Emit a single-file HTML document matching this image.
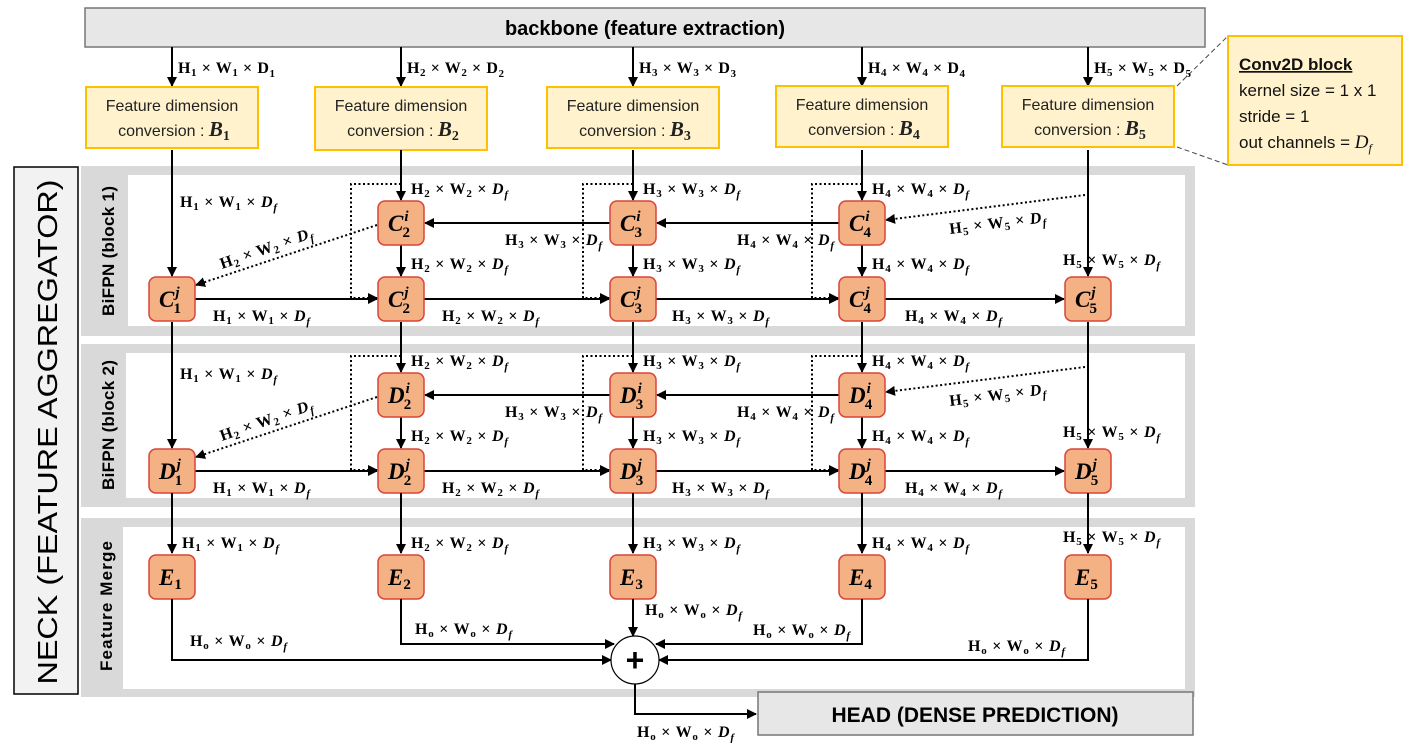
<!DOCTYPE html>
<html><head><meta charset="utf-8"><style>
html,body{margin:0;padding:0;background:#fff;}
svg{display:block;}
.lb{font-family:"Liberation Serif",serif;font-weight:bold;font-size:16px;fill:#000;}
.bt{font-family:"Liberation Sans",sans-serif;font-size:16px;fill:#222;}
</style></head><body>
<svg id="d" width="1413" height="743" viewBox="0 0 1413 743" xmlns="http://www.w3.org/2000/svg">
<defs>
<marker id="ah" markerWidth="10" markerHeight="10" refX="9" refY="5" orient="auto" markerUnits="userSpaceOnUse"><path d="M0,0 L10,5 L0,10 z" fill="#000"/></marker>
</defs>
<rect x="85" y="8" width="1120" height="39" fill="#e7e7e7" stroke="#777" stroke-width="1.5"/>
<text x="645" y="35" text-anchor="middle" font-family="Liberation Sans,sans-serif" font-weight="bold" font-size="20">backbone (feature extraction)</text>
<rect x="14" y="167" width="64" height="527" fill="#f2f2f2" stroke="#000" stroke-width="1.5"/>
<text transform="translate(57,432) rotate(-90)" text-anchor="middle" font-family="Liberation Sans,sans-serif" font-size="28" textLength="505" lengthAdjust="spacingAndGlyphs">NECK (FEATURE AGGREGATOR)</text>
<rect x="81" y="166" width="1114" height="170" fill="#d9d9d9"/>
<rect x="128" y="175" width="1057" height="151" fill="#fff"/>
<text transform="translate(114,251) rotate(-90)" text-anchor="middle" font-family="Liberation Sans,sans-serif" font-weight="bold" font-size="17" textLength="130">BiFPN (block 1)</text>
<rect x="81" y="344" width="1114" height="163" fill="#d9d9d9"/>
<rect x="126" y="353" width="1059" height="145" fill="#fff"/>
<text transform="translate(114,425) rotate(-90)" text-anchor="middle" font-family="Liberation Sans,sans-serif" font-weight="bold" font-size="17" textLength="130">BiFPN (block 2)</text>
<rect x="81" y="518" width="1114" height="179" fill="#d9d9d9"/>
<rect x="123" y="527" width="1062" height="162" fill="#fff"/>
<text transform="translate(112,606) rotate(-90)" text-anchor="middle" font-family="Liberation Sans,sans-serif" font-weight="bold" font-size="17" textLength="130">Feature Merge</text>
<rect x="1228" y="36" width="174" height="129" fill="#fff2cc" stroke="#ffc000" stroke-width="2"/>
<line x1="1177" y1="86" x2="1228" y2="36" stroke="#444" stroke-dasharray="5,3"/>
<line x1="1177" y1="147" x2="1228" y2="165" stroke="#444" stroke-dasharray="5,3"/>
<text font-family="Liberation Sans,sans-serif" font-size="17" fill="#111">
<tspan x="1239" y="70" font-weight="bold" text-decoration="underline">Conv2D block</tspan>
<tspan x="1239" y="96">kernel size = 1 x 1</tspan>
<tspan x="1239" y="122">stride = 1</tspan>
<tspan x="1239" y="148">out channels = <tspan font-family="Liberation Serif,serif" font-style="italic" font-size="19">D<tspan font-size="12" dy="4">f</tspan></tspan></tspan>
</text>
<g id="g"></g>
</svg>
<script>
const cols=[172,401,633,862,1088];
const svgNS="http://www.w3.org/2000/svg";
const g=document.getElementById('g');
function line(pts,name,dotted,arrow){
 const p=document.createElementNS(svgNS,'polyline');
 p.setAttribute('points',pts.map(a=>a.join(',')).join(' '));
 p.setAttribute('fill','none');p.setAttribute('stroke','#000');
 p.setAttribute('stroke-width','2');
 if(dotted)p.setAttribute('stroke-dasharray','2,2.5');
 if(arrow!==false)p.setAttribute('marker-end','url(#ah)');
 
 
 g.appendChild(p);
}
function lab(x,y,a,b,c,name,rot){
 const t=document.createElementNS(svgNS,'text');
 t.setAttribute('x',x);t.setAttribute('y',y);t.setAttribute('class','lb');
 t.setAttribute('textLength','97');t.setAttribute('lengthAdjust','spacing');
 if(rot)t.setAttribute('transform','rotate('+rot+' '+x+' '+y+')');
 const italicD=(c==='f');
 t.innerHTML='H<tspan font-size="11" dy="3">'+a+'</tspan><tspan dy="-3"> × W</tspan><tspan font-size="11" dy="3">'+b+'</tspan><tspan dy="-3"> × </tspan><tspan font-style="'+(italicD?'italic':'normal')+'">D</tspan><tspan font-size="11" dy="4" font-style="'+(italicD?'italic':'normal')+'">'+c+'</tspan>';
 
 
 g.appendChild(t);
}
function node(cx,cy,L,sub,sup,name){
 const r=document.createElementNS(svgNS,'rect');
 r.setAttribute('x',cx-23);r.setAttribute('y',cy-22);r.setAttribute('width',46);r.setAttribute('height',44);
 r.setAttribute('rx',7);r.setAttribute('fill','#f4b183');r.setAttribute('stroke','#d9453b');r.setAttribute('stroke-width','1.5');
 
 
 g.appendChild(r);
 const t=document.createElementNS(svgNS,'text');
 t.setAttribute('x',cx-13);t.setAttribute('y',cy+8);
 t.setAttribute('font-family','Liberation Serif,serif');t.setAttribute('font-weight','bold');t.setAttribute('font-style','italic');t.setAttribute('font-size','23');
 if(sup) t.innerHTML=L+'<tspan font-size="15" dx="1" dy="-10">'+sup+'</tspan><tspan font-size="15" font-style="normal" dx="-6" dy="16">'+sub+'</tspan>';
 else t.innerHTML=L+'<tspan font-size="15" font-style="normal" dy="4">'+sub+'</tspan>';
 
 
 g.appendChild(t);
}
const by=[[87,148],[87,150],[87,148],[86,147],[86,147]];
cols.forEach((x,i)=>{
 const k=i+1;
 line([[x,47],[x,86]],'backbone-arrow-'+k);
 lab(x+6,73,k,k,k,'backbone-output-label-'+k);
 const r=document.createElementNS(svgNS,'rect');
 r.setAttribute('x',x-86);r.setAttribute('y',by[i][0]);r.setAttribute('width',172);r.setAttribute('height',by[i][1]-by[i][0]);
 r.setAttribute('fill','#fff2cc');r.setAttribute('stroke','#ffc000');r.setAttribute('stroke-width','2');
 
 
 g.appendChild(r);
 const t=document.createElementNS(svgNS,'text');
 t.setAttribute('class','bt');t.setAttribute('text-anchor','middle');
 t.innerHTML='<tspan x="'+x+'" y="'+(by[i][0]+24)+'">Feature dimension</tspan><tspan x="'+(x+2)+'" y="'+(by[i][0]+49)+'">conversion : <tspan font-family="Liberation Serif,serif" font-weight="bold" font-style="italic" font-size="21">B<tspan font-size="14" font-style="normal" dy="4">'+k+'</tspan></tspan></tspan>';
 
 
 g.appendChild(t);
});
const blocks=[{L:'C',iy:223,jy:299,top:150},{L:'D',iy:395,jy:471,top:322}];
blocks.forEach((b,bi)=>{
 const L=b.L, n=L.toLowerCase(), off=bi*172;
 line([[cols[0],b.top],[cols[0],b.jy-23]],n+'-input-arrow-1');
 lab(180,207+off,1,1,'f',n+'-input-label-1');
 for(let k=1;k<4;k++){
  const x=cols[k];
  line([[x,b.top],[x,b.iy-23]],n+'-input-arrow-'+(k+1));
  lab(x+10,194+off,k+1,k+1,'f',n+'-input-label-'+(k+1));
  line([[x,b.iy+22],[x,b.jy-23]],n+'-i-to-j-arrow-'+(k+1));
  lab(x+10,269+off,k+1,k+1,'f',n+'-i-to-j-label-'+(k+1));
  line([[x,184+off],[x-50,184+off],[x-50,b.jy-1],[x-24,b.jy-1]],n+'-skip-connection-'+(k+1),true);
 }
 line([[cols[4],b.top],[cols[4],b.jy-23]],n+'-input-arrow-5');
 lab(1063,265+off,5,5,'f',n+'-input-label-5');
 line([[1085,195+off],[886,220+off]],n+'-dotted-5-to-4i',true);
 lab(950,234+off,5,5,'f',n+'-dotted-label-5',-7);
 line([[cols[3]-23,b.iy],[cols[2]+24,b.iy]],n+'-topdown-4-to-3');
 lab(737,245+off,4,4,'f',n+'-topdown-label-4');
 line([[cols[2]-23,b.iy],[cols[1]+24,b.iy]],n+'-topdown-3-to-2');
 lab(505,245+off,3,3,'f',n+'-topdown-label-3');
 line([[cols[1]-24,b.iy+2],[cols[0]+24,b.jy-14]],n+'-dotted-2i-to-1j',true);
 lab(222,269+off,2,2,'f',n+'-dotted-label-2',-19);
 const lx=[213,442,672,905];
 for(let k=0;k<4;k++){
  line([[cols[k]+23,b.jy],[cols[k+1]-24,b.jy]],n+'-bottomup-'+(k+1)+'-to-'+(k+2));
  lab(lx[k],321+off,k+1,k+1,'f',n+'-bottomup-label-'+(k+1));
 }
 for(let k=1;k<4;k++) node(cols[k],b.iy,L,k+1,'i',n+'-node-i-'+(k+1));
 for(let k=0;k<5;k++) node(cols[k],b.jy,L,k+1,'j',n+'-node-j-'+(k+1));
});
cols.forEach((x,k)=>{
 line([[x,493],[x,553]],'e-input-arrow-'+(k+1));
 lab(k==4?1063:x+10,k==4?542:548,k+1,k+1,'f','e-input-label-'+(k+1));
 node(x,577,'E',k+1,null,'e-node-'+(k+1));
});
line([[172,599],[172,660],[611,660]],'merge-arrow-1');
lab(190,646,'o','o','f','merge-label-1');
line([[401,599],[401,644],[614,644]],'merge-arrow-2');
lab(415,634,'o','o','f','merge-label-2');
line([[633,599],[633,636]],'merge-arrow-3');
lab(645,615,'o','o','f','merge-label-3');
line([[862,599],[862,644],[656,644]],'merge-arrow-4');
lab(753,635,'o','o','f','merge-label-4');
line([[1088,599],[1088,660],[659,660]],'merge-arrow-5');
lab(968,651,'o','o','f','merge-label-5');
</script>
<svg style="position:absolute;left:0;top:0" width="1413" height="743">
<defs><marker id="ah2" markerWidth="10" markerHeight="10" refX="9" refY="5" orient="auto" markerUnits="userSpaceOnUse"><path d="M0,0 L10,5 L0,10 z" fill="#000"/></marker></defs>
<circle cx="635" cy="660" r="24" fill="#fff" stroke="#000" stroke-width="1.2"/>
<text x="635" y="671" text-anchor="middle" font-family="Liberation Sans,sans-serif" font-weight="bold" font-size="32">+</text>
<polyline points="635,684 635,714 756,714" fill="none" stroke="#000" stroke-width="2" marker-end="url(#ah2)"/>
<text x="637" y="737" class="lb" textLength="97" lengthAdjust="spacing">H<tspan font-size="11" dy="3">o</tspan><tspan dy="-3"> × W</tspan><tspan font-size="11" dy="3">o</tspan><tspan dy="-3"> × </tspan><tspan font-style="italic">D</tspan><tspan font-size="11" dy="4" font-style="italic">f</tspan></text>
<rect x="758" y="692" width="435" height="43" fill="#e7e7e7" stroke="#777" stroke-width="1.5"/>
<text x="975" y="722" text-anchor="middle" font-family="Liberation Sans,sans-serif" font-weight="bold" font-size="21">HEAD (DENSE PREDICTION)</text>
</svg>
</body></html>
